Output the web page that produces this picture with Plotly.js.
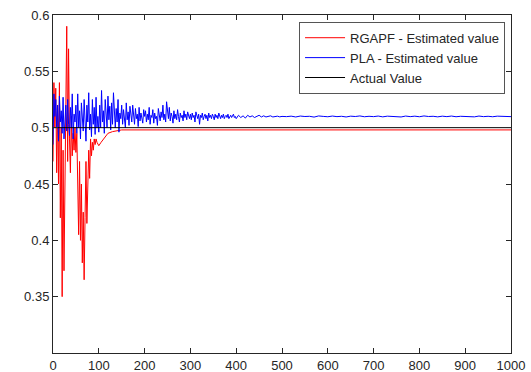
<!DOCTYPE html>
<html><head><meta charset="utf-8">
<script src="https://cdn.plot.ly/plotly-3.0.1.min.js"></script>
<style>html,body{margin:0;padding:0;background:#fff}#chart{width:531px;height:372px}</style>
</head><body><div id="chart"></div>
<script>
// Actual value
const actualX = [0, 1000];
const actualY = [0.5, 0.5];

// RGAPF estimate: dense part (x = 0..100 step 2) then tail
const rgapfDenseStart = 0, rgapfDenseStep = 2;
const rgapfDense = [0.47,0.54,0.5,0.535,0.46,0.52,0.45,0.54,0.42,0.5,0.35,0.48,0.373,0.44,0.52,0.59,0.47,0.57,0.49,0.46,
  0.51,0.475,0.495,0.48,0.5,0.478,0.495,0.44,0.405,0.47,0.4,0.45,0.38,0.425,0.365,0.42,0.47,0.415,0.46,0.48,
  0.455,0.49,0.475,0.487,0.48,0.49,0.485,0.49,0.487,0.485,0.484];
const rgapfTailX = [105,110,115,120,130,140,150,1000];
const rgapfTailY = [0.487,0.49,0.493,0.495,0.4965,0.4975,0.498,0.498];

// PLA estimate segments: start, step, values
const plaSeg1Start = 0, plaSeg1Step = 2;
const plaSeg1 = [0.485,0.53,0.51,0.525,0.5,0.52,0.488,0.528,0.505,0.515,0.495,0.527,0.49,0.51,0.52,0.497,0.525,0.503,0.493,0.518,0.5,0.53,0.49,0.512,0.505,0.52,
  0.495,0.53,0.5,0.515,0.49,0.522,0.507,0.497,0.525,0.5,0.488,0.52,0.505,0.531,0.498,0.512,0.492,0.525,0.503,0.518,0.494,0.527,0.5,0.51,0.496,
  0.52,0.5,0.533,0.505,0.515,0.495,0.525,0.51,0.5,0.528,0.507,0.519,0.498,0.522,0.503,0.531,0.51,0.5,0.517,0.505,0.525,0.496,0.513,0.508,0.52,
  0.503,0.516,0.51,0.5,0.522,0.507,0.514,0.502,0.519,0.509,0.505,0.52,0.51,0.503,0.517,0.508,0.512,0.501,0.518,0.506,0.513,0.509,0.504,0.516,0.51,
  0.515,0.505,0.512,0.507,0.518,0.503,0.511,0.509,0.516,0.504,0.513,0.508,0.51,0.502,0.517,0.51,0.506,0.514,0.509,0.52,0.507,0.512,0.505,0.523,0.511,0.508,0.518,0.506,0.513,0.51,0.504,0.515,0.508,0.512,0.507,0.516,0.51,0.505,0.513,0.509,0.511,0.506,0.515,0.509,0.512,0.507,0.514,0.51,0.508,0.512,
  0.507,0.513,0.509,0.511,0.505,0.514,0.51,0.508,0.512,0.503,0.511,0.509,0.513,0.507,0.51,0.512,0.508,0.511,0.506,0.513,0.509,0.511,0.508,0.512,0.51,0.507,0.512,0.509,0.511,0.508,0.513,0.51,0.508,0.511,0.509,0.512,0.508,0.51,0.511,0.509,0.512,0.508,0.51,0.511,0.509,0.51,0.512,0.509,0.51,0.508];
const plaSeg2Start = 405, plaSeg2Step = 5;
const plaSeg2 = [0.511,0.509,0.5105,0.5085,0.511,0.5095,0.5105,0.509,0.51,0.511,0.5095,0.5105,0.5095,0.51,0.5105,0.5095,0.51,0.5102,0.5096,0.51];
const plaSeg3Start = 510, plaSeg3Step = 10;
const plaSeg3 = [0.5098,0.5102,0.5095,0.5103,0.5099,0.5101,0.5094,0.5104,0.51,0.5097,0.5103,0.5098,0.5101,0.5095,0.5102,0.5099,0.5104,0.5097,0.5101,0.5098,
  0.5103,0.5096,0.5102,0.5099,0.5101,0.5095,0.5103,0.5098,0.5102,0.5097,0.5104,0.5099,0.5101,0.5096,0.5102,0.5098,0.5103,0.5097,0.5101,0.5099,
  0.5102,0.5096,0.5103,0.5098,0.5101,0.5097,0.5102,0.5099,0.5101,0.5098];

const xTicks = [0,100,200,300,400,500,600,700,800,900,1000];
const yTicks = [0.35,0.4,0.45,0.5,0.55,0.6];
const yTickText = ['0.35','0.4','0.45','0.5','0.55','0.6'];

function idx(start, step, arr){ return arr.map((_, i) => start + i*step); }

const rgX = idx(rgapfDenseStart, rgapfDenseStep, rgapfDense).concat(rgapfTailX);
const rgY = rgapfDense.concat(rgapfTailY);
const plX = idx(plaSeg1Start, plaSeg1Step, plaSeg1).concat(idx(plaSeg2Start, plaSeg2Step, plaSeg2), idx(plaSeg3Start, plaSeg3Step, plaSeg3));
const plY = plaSeg1.concat(plaSeg2, plaSeg3);

const traces = [
  {x: rgX, y: rgY, type: 'scatter', mode: 'lines', name: 'RGAPF - Estimated value', line: {color: '#ff0000', width: 1}},
  {x: plX, y: plY, type: 'scatter', mode: 'lines', name: 'PLA - Estimated value', line: {color: '#0000ff', width: 1}},
  {x: actualX, y: actualY, type: 'scatter', mode: 'lines', name: 'Actual Value', line: {color: '#000000', width: 1}}
];

const axisCommon = {
  showline: true, linecolor: '#262626', linewidth: 1, mirror: 'ticks',
  ticks: 'inside', ticklen: 5, tickcolor: '#262626', tickwidth: 1,
  showgrid: false, zeroline: false,
  tickfont: {family: 'Liberation Sans, Arial, sans-serif', size: 13, color: '#262626'}
};

const layout = {
  width: 531, height: 372,
  margin: {l: 53, r: 20, t: 15, b: 19},
  paper_bgcolor: '#ffffff', plot_bgcolor: '#ffffff',
  showlegend: true,
  xaxis: Object.assign({}, axisCommon, {range: [0, 1000], tickvals: xTicks, ticktext: xTicks.map(String)}),
  yaxis: Object.assign({}, axisCommon, {range: [0.3, 0.6], tickvals: yTicks, ticktext: yTickText}),
  legend: {
    x: 0.987, y: 0.98, xanchor: 'right', yanchor: 'top',
    bgcolor: '#ffffff', bordercolor: '#555555', borderwidth: 1,
    font: {family: 'Liberation Sans, Arial, sans-serif', size: 13, color: '#262626'},
    itemwidth: 40,
    tracegroupgap: 0
  }
};

Plotly.newPlot('chart', traces, layout, {displayModeBar: false, staticPlot: true});
</script>
</body></html>
